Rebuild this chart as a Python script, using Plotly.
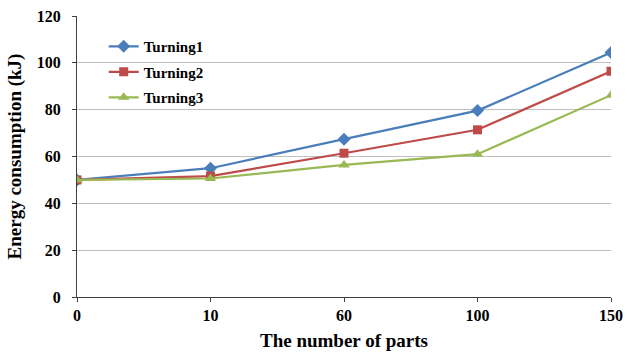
import plotly.graph_objects as go

categories = ["0", "10", "60", "100", "150"]
turning1 = [50, 55, 67.4, 79.6, 104.4]
turning2 = [50, 51.6, 61.4, 71.4, 96.4]
turning3 = [50, 50.6, 56.4, 61.0, 86.2]
y_ticks = [0, 20, 40, 60, 80, 100, 120]

font = "Liberation Serif, Times New Roman, serif"

fig = go.Figure()
series = [
    ("Turning1", turning1, "#4A7EBB", "diamond", 10),
    ("Turning2", turning2, "#BE4B48", "square", 9),
    ("Turning3", turning3, "#98B954", "triangle-up", 10),
]
for name, vals, color, sym, size in series:
    fig.add_trace(go.Scatter(
        x=categories, y=vals, name=name, mode="lines+markers",
        line=dict(color=color, width=2.2),
        marker=dict(symbol=sym, size=size, color=color),
        legendgroup=name,
    ))

fig.update_layout(
    width=627, height=356,
    margin=dict(l=77, r=16, t=16, b=59, autoexpand=False),
    paper_bgcolor="white", plot_bgcolor="white",
    font=dict(family=font, color="black"),
    showlegend=True,
    legend=dict(
        x=0.05, y=0.95, xanchor="left", yanchor="top",
        font=dict(family=font, size=15, color="black", weight="bold"),
        bgcolor="rgba(0,0,0,0)", tracegroupgap=3,
    ),
    xaxis=dict(
        type="category", range=[0, 4], automargin=False,
        showline=True, linecolor="#404040", linewidth=1,
        ticks="outside", ticklen=4, tickcolor="#404040",
        showgrid=False, zeroline=False, ticklabeloverflow="allow",
        tickfont=dict(family=font, size=16, color="black", weight="bold"),
        title=dict(text="The number of parts",
                   font=dict(family=font, size=19, color="black", weight="bold"),
                   standoff=10),
    ),
    yaxis=dict(
        range=[0, 120], tickvals=y_ticks, automargin=False,
        showline=True, linecolor="#404040", linewidth=1,
        ticks="outside", ticklen=4, tickcolor="#404040",
        showgrid=True, gridcolor="#BFBFBF", gridwidth=1.3,
        zeroline=False, ticklabeloverflow="allow", ticklabelstandoff=8,
        tickfont=dict(family=font, size=16, color="black", weight="bold"),
        title=dict(text="Energy consumption (kJ)",
                   font=dict(family=font, size=19, color="black", weight="bold"),
                   standoff=10),
    ),
)

fig.write_html("out.html", config={"displayModeBar": False},
               post_script="document.body.style.margin='0px';")
